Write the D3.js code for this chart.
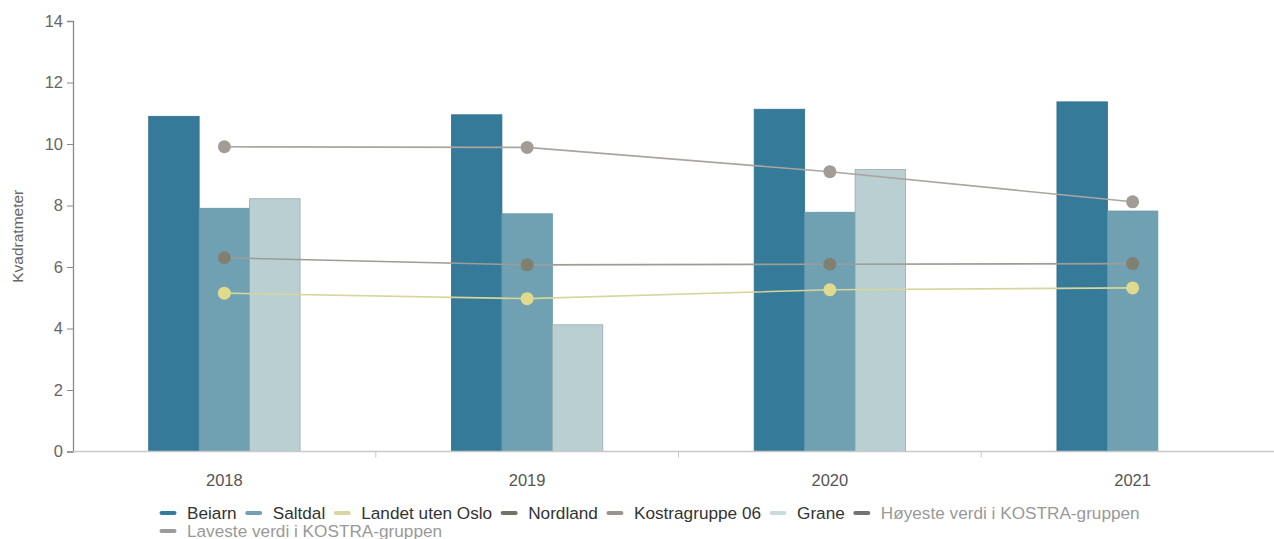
<!DOCTYPE html>
<html><head><meta charset="utf-8">
<script src="https://cdn.jsdelivr.net/npm/d3@7"></script>
<style>
html,body{margin:0;padding:0;background:#fff;}
svg{display:block;font-family:"Liberation Sans",Arial,sans-serif;}
</style></head>
<body><svg id="c" width="1274" height="539"></svg>
<script>
const years = ["2018","2019","2020","2021"];
const columnSeries = ["Beiarn","Saltdal","Grane"];
const beiarn = [10.90, 10.95, 11.13, 11.37];
const saltdal = [7.91, 7.73, 7.78, 7.82];
const grane = [8.22, 4.12, 9.17, null];
const landetUtenOslo = [5.15, 4.97, 5.26, 5.32];
const nordland = [6.30, 6.07, 6.09, 6.11];
const kostragruppe06 = [9.91, 9.89, 9.10, 8.12];
const yTicks = [0, 2, 4, 6, 8, 10, 12, 14];
const legendNames = ["Beiarn","Saltdal","Landet uten Oslo","Nordland","Kostragruppe 06","Grane","Høyeste verdi i KOSTRA-gruppen","Laveste verdi i KOSTRA-gruppen"];

const colors = {
  "Beiarn":"#367a9a","Saltdal":"#70a1b3","Grane":"#b9cfd1",
  "Landet uten Oslo":"#d8d59c","Nordland":"#7f8070","Kostragruppe 06":"#a29d94",
  "Høyeste verdi i KOSTRA-gruppen":"#7b7b7b","Laveste verdi i KOSTRA-gruppen":"#999999"
};
const legendSym = {
  "Beiarn":"#367a9a","Saltdal":"#70a1b3","Landet uten Oslo":"#d9d6a2","Nordland":"#6e7466",
  "Kostragruppe 06":"#9a958c","Grane":"#c9dbdc","Høyeste verdi i KOSTRA-gruppen":"#737373",
  "Laveste verdi i KOSTRA-gruppen":"#9a9a9a"
};
const hidden = new Set(["Høyeste verdi i KOSTRA-gruppen","Laveste verdi i KOSTRA-gruppen"]);

const svg = d3.select("#c");
const mLeft = 73, mRight = 1284, mTop = 21, mBottom = 451.5;

const x = d3.scaleBand().domain(years).range([mLeft, mRight]).padding(0);
const xc = d3.scaleBand().domain(columnSeries).range([0, x.bandwidth()]).paddingInner(0).paddingOuter(1.5);
const y = d3.scaleLinear().domain([0, 14]).range([mBottom, mTop]);

// Y axis
const ya = svg.append("g").attr("transform", `translate(${mLeft},0)`)
  .call(d3.axisLeft(y).tickValues(yTicks).tickSize(6).tickPadding(4).tickFormat(d3.format("d")));
ya.select(".domain").attr("stroke", "#8a8a8a").attr("stroke-width", 1.3);
ya.selectAll(".tick line").attr("stroke", "#8a8a8a");
ya.selectAll(".tick text").attr("fill", "#666").attr("font-size", 16.5).attr("font-family", "Liberation Sans, Arial, sans-serif");

svg.append("text").attr("transform", `translate(23,${(mTop+mBottom)/2}) rotate(-90)`)
  .attr("text-anchor", "middle").attr("fill", "#666").attr("font-size", 15.5).text("Kvadratmeter");

// bars
const colData = {"Beiarn": beiarn, "Saltdal": saltdal, "Grane": grane};
const strokeC = {"Beiarn":"#2f6f8d","Saltdal":"#6495a7","Grane":"#97aaab"};
columnSeries.forEach(s => {
  svg.append("g").selectAll("rect")
    .data(years.map((yr, i) => ({yr, v: colData[s][i]})).filter(d => d.v != null))
    .join("rect")
    .attr("x", d => x(d.yr) + xc(s))
    .attr("width", xc.bandwidth())
    .attr("y", d => y(d.v))
    .attr("height", d => y(0) - y(d.v))
    .attr("fill", colors[s])
    .attr("stroke", strokeC[s]).attr("stroke-width", 0.8);
});

// X axis
svg.append("line").attr("x1", mLeft).attr("x2", mRight).attr("y1", mBottom).attr("y2", mBottom)
  .attr("stroke", "#c8c8c8").attr("stroke-width", 1.3);
svg.append("g").selectAll("line").data(years.slice(1)).join("line")
  .attr("x1", d => x(d)).attr("x2", d => x(d)).attr("y1", mBottom).attr("y2", mBottom + 6)
  .attr("stroke", "#c8c8c8");
svg.append("g").selectAll("text").data(years).join("text")
  .attr("x", d => x(d) + x.bandwidth()/2).attr("y", 486)
  .attr("text-anchor", "middle").attr("fill", "#555").attr("font-size", 16.5).text(d => d);

// lines
const lineSeries = [
  {name:"Kostragruppe 06", vals: kostragruppe06, line:"#aaa59e", mark:"#a29d94"},
  {name:"Nordland", vals: nordland, line:"#9c9d96", mark:"#7f8070"},
  {name:"Landet uten Oslo", vals: landetUtenOslo, line:"#d8d59c", mark:"#e0da8c"}
];
const lg = d3.line().x(d => x(d.yr) + x.bandwidth()/2).y(d => y(d.v));
lineSeries.forEach(s => {
  const pts = years.map((yr, i) => ({yr, v: s.vals[i]}));
  svg.append("path").datum(pts).attr("d", lg).attr("fill", "none")
    .attr("stroke", s.line).attr("stroke-width", 1.6);
  svg.append("g").selectAll("circle").data(pts).join("circle")
    .attr("cx", d => x(d.yr) + x.bandwidth()/2).attr("cy", d => y(d.v))
    .attr("r", 6.5).attr("fill", s.mark);
});

// legend
const leg = svg.append("g").attr("font-size", 17.2);
let lx = 160, ly = 513;
const maxX = 1160;
legendNames.forEach(n => {
  const g = leg.append("g");
  const t = g.append("text").attr("x", 27).attr("y", 5.8)
    .attr("fill", hidden.has(n) ? "#999" : "#333").text(n);
  const w = t.node().getComputedTextLength();
  const itemW = 27 + w + 9;
  if (lx + 27 + w > maxX) { lx = 160; ly += 18; }
  g.append("line").attr("x1", 1.5).attr("x2", 14.5).attr("y1", 0).attr("y2", 0)
    .attr("stroke", legendSym[n]).attr("stroke-width", 4).attr("stroke-linecap", "round");
  g.attr("transform", `translate(${lx},${ly})`);
  lx += itemW;
});
</script>
</body></html>
